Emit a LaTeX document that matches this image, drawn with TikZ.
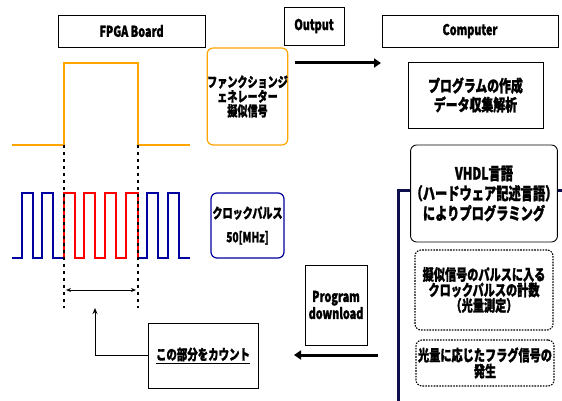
\documentclass[tikz,border=0pt]{standalone}
\usepackage{fontspec}
\setmainfont{Noto Sans CJK JP}[FakeStretch=0.72, BoldFeatures={FakeBold=1.2}]
\usetikzlibrary{arrows.meta}
\definecolor{sigorange}{RGB}{255,165,0}
\definecolor{clkblue}{RGB}{0,0,160}
\definecolor{navybr}{RGB}{15,15,80}
\tikzset{
  box/.style={draw=black, line width=0.9pt, fill=white, align=center, inner sep=0pt, font=\bfseries},
  rbox/.style={box, rounded corners=6pt},
  dbox/.style={box, rounded corners=6pt, dash pattern=on 1.6pt off 1.2pt, line width=1.1pt},
  bigarrow/.style={line width=3pt, -{Triangle[length=7pt,width=9pt]}},
  dotline/.style={line width=1.5pt, dash pattern=on 3pt off 4pt},
  wave/.style={line width=2pt, line join=miter},
}
\begin{document}
\begin{tikzpicture}[x=1pt,y=-1pt]
\useasboundingbox (0,0) rectangle (562,401);
% navy bracket behind right column
\draw[navybr, line width=3pt] (570,190) -- (398,190) -- (398,410);
% header boxes
\node[box, minimum width=147pt, minimum height=32pt, font=\bfseries\fontsize{15}{16}\selectfont] (fpga) at (131.5,31) {FPGA Board};
\node[box, minimum width=60pt, minimum height=38pt, font=\bfseries\fontsize{15}{16}\selectfont] (output) at (314,26) {Output};
\node[box, minimum width=176pt, minimum height=32pt, font=\bfseries\fontsize{15}{16}\selectfont] (computer) at (470,31) {Computer};
% orange signal
\draw[sigorange, wave] (12,145) -- (64,145) -- (64,63) -- (138,63) -- (138,145) -- (190,145);
\node[rbox, draw=sigorange, line width=1.2pt, minimum width=73pt, minimum height=97pt, font=\bfseries\fontsize{14}{14.5}\selectfont] (gen) at (247.5,96.5) {ファンクションジ\\ェネレーター\\擬似信号};
% clock pulses
\draw[clkblue, wave] (12,258) -- (22,258) -- (22,193) -- (33,193) -- (33,258) -- (42,258) -- (42,193) -- (53,193) -- (53,258) -- (64,258);
\draw[red, wave] (64,258) -- (64,193) -- (75,193) -- (75,258) -- (84,258) -- (84,193) -- (95,193) -- (95,258) -- (105,258) -- (105,193) -- (116,193) -- (116,258) -- (126,258) -- (126,193) -- (138,193) -- (138,258);
\draw[clkblue, wave] (138,258) -- (147,258) -- (147,193) -- (158,193) -- (158,258) -- (168,258) -- (168,193) -- (179,193) -- (179,258) -- (190,258);
\node[rbox, draw=clkblue, line width=1.2pt, minimum width=73pt, minimum height=65pt, font=\bfseries\fontsize{14}{24}\selectfont] (clk) at (247.5,225.5) {クロックパルス\\50[MHz]};
% dotted guides
\coordinate (d1a) at (64,145); \coordinate (d1b) at (64,308);
\coordinate (d2a) at (138,145); \coordinate (d2b) at (138,308);
\draw[dotline] (d1a) -- (d1b);
\draw[dotline] (d2a) -- (d2b);
\coordinate (w1) at (66,290); \coordinate (w2) at (136,290);
\draw[line width=0.9pt, {Stealth[length=5pt,width=4pt]}-{Stealth[length=5pt,width=4pt]}] (w1) -- (w2);
% count box
\node[box, minimum width=110pt, minimum height=65pt, font=\bfseries\fontsize{14.5}{15}\selectfont] (count) at (203,355.5) {\underline{この部分をカウント}};
\coordinate (cnttip) at (95,308);
\draw[line width=1pt, -{Stealth[length=6pt,width=5pt]}] (count.west) -| (cnttip);
% output arrow
\coordinate (oa1) at (295,63); \coordinate (oa2) at (381,63);
\draw[bigarrow] (oa1) -- (oa2);
% computer side
\node[box, minimum width=135pt, minimum height=66pt, font=\bfseries\fontsize{16.5}{19}\selectfont] (prog) at (475.5,95) {プログラムの作成\\データ収集解析};
\node[rbox, minimum width=146pt, minimum height=97pt, font=\bfseries\fontsize{17}{20}\selectfont] (vhdl) at (484,193.5) {VHDL言語\\（ハードウェア記述言語）\\によりプログラミング};
\node[dbox, minimum width=138pt, minimum height=80pt, font=\bfseries\fontsize{15.5}{15.5}\selectfont] (meas) at (484,290) {擬似信号のパルスに入る\\クロックパルスの計数\\（光量測定）};
\node[dbox, minimum width=138pt, minimum height=46pt, font=\bfseries\fontsize{15.5}{16}\selectfont] (flag) at (485,363) {光量に応じたフラグ信号の\\発生};
% download
\node[box, minimum width=62pt, minimum height=80pt, font=\bfseries\fontsize{15}{17}\selectfont] (dl) at (336,305) {Program\\download};
\coordinate (da1) at (378,355); \coordinate (da2) at (294,355);
\draw[bigarrow] (da1) -- (da2);
\end{tikzpicture}
\end{document}
